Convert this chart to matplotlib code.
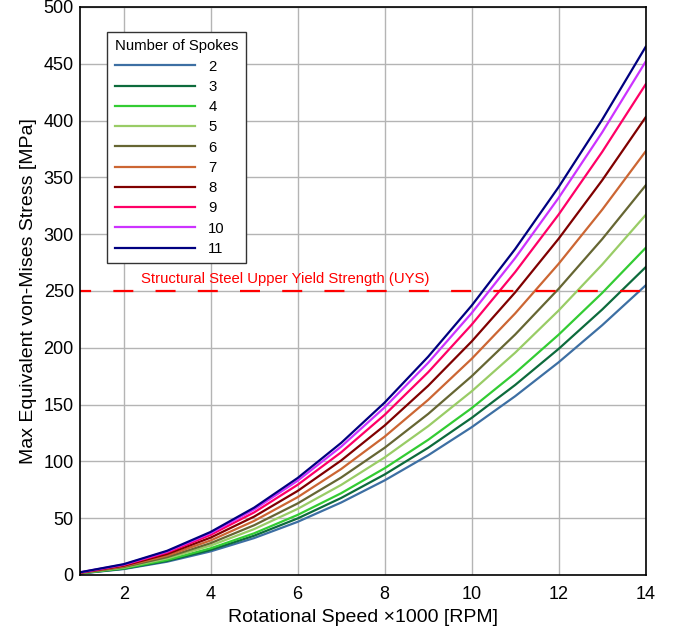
import matplotlib
matplotlib.use("Agg")
import matplotlib.pyplot as plt

plt.rcParams["font.family"] = ["Liberation Sans", "DejaVu Sans"]

rpm = [1, 2, 3, 4, 5, 6, 7, 8, 9, 10, 11, 12, 13, 14]

spokes = ["2", "3", "4", "5", "6", "7", "8", "9", "10", "11"]
cores = ["#3d6fa3", "#0d6b3c", "#33cc33", "#99cc66", "#666633",
         "#cc6633", "#800000", "#ff0066", "#cc33ff", "#000080"]

tensao = [
    [1.3, 5.2, 11.7, 20.8, 32.5, 46.8, 63.8, 83.3, 105.4, 130.1, 157.4, 187.3, 219.9, 255.0],
    [1.4, 5.5, 12.4, 22.1, 34.6, 49.8, 67.8, 88.5, 112.0, 138.3, 167.3, 199.1, 233.7, 271.0],
    [1.5, 5.9, 13.2, 23.5, 36.7, 52.9, 72.0, 94.0, 119.0, 146.9, 177.8, 211.6, 248.3, 288.0],
    [1.6, 6.5, 14.6, 25.9, 40.4, 58.2, 79.3, 103.5, 131.0, 161.7, 195.7, 232.9, 273.3, 317.0],
    [1.7, 7.0, 15.7, 28.0, 43.8, 63.0, 85.8, 112.0, 141.8, 175.0, 211.7, 252.0, 295.7, 343.0],
    [1.9, 7.6, 17.1, 30.4, 47.6, 68.5, 93.3, 121.8, 154.2, 190.3, 230.3, 274.0, 321.6, 373.0],
    [2.1, 8.2, 18.5, 32.9, 51.4, 74.0, 100.8, 131.6, 166.6, 205.6, 248.8, 296.1, 347.5, 403.0],
    [2.2, 8.8, 19.8, 35.3, 55.1, 79.4, 108.0, 141.0, 178.5, 220.4, 266.7, 317.4, 372.5, 432.0],
    [2.3, 9.2, 20.7, 36.9, 57.7, 83.0, 113.0, 147.6, 186.8, 230.6, 279.0, 332.1, 389.7, 452.0],
    [2.4, 9.5, 21.3, 37.9, 59.3, 85.4, 116.3, 151.8, 192.2, 237.2, 287.0, 341.6, 400.9, 465.0],
]

uys = 250

fig = plt.figure(figsize=(6.79, 6.35), dpi=100)
ax = fig.add_axes([0.118, 0.0945, 0.833, 0.8945])

for nome, cor, valores in zip(spokes, cores, tensao):
    ax.plot(rpm, valores, color=cor, lw=1.6, label=nome)

ax.axhline(uys, color="red", ls=(4, (9, 10)), lw=1.6)
ax.text(5.72, uys + 4, "Structural Steel Upper Yield Strength (UYS)",
        color="red", fontsize=10.7, ha="center", va="bottom")

ax.set_xlim(1, 14)
ax.set_ylim(0, 500)
ax.set_xticks([2, 4, 6, 8, 10, 12, 14])
ax.set_yticks(range(0, 501, 50))
ax.grid(True, color="#b4b4b4", lw=1)
ax.set_axisbelow(True)
ax.tick_params(labelsize=13, length=0)
ax.tick_params(axis="x", pad=8)
ax.tick_params(axis="y", pad=4.5)
for s in ax.spines.values():
    s.set_color("black")
    s.set_linewidth(1.2)

ax.set_xlabel("Rotational Speed \u00d71000 [RPM]", fontsize=14, labelpad=4)
ax.set_ylabel("Max Equivalent von-Mises Stress [MPa]", fontsize=14, labelpad=5)

leg = ax.legend(title="Number of Spokes", loc="upper left",
                bbox_to_anchor=(0.048, 0.956), borderaxespad=0,
                fontsize=10.7, title_fontsize=10.7,
                handlelength=5.4, handletextpad=0.9, labelspacing=0.42,
                fancybox=False, framealpha=1, edgecolor="#333333",
                borderpad=0.5, alignment="left")
leg.get_frame().set_linewidth(1.0)

fig.savefig("out.png", dpi=100)
